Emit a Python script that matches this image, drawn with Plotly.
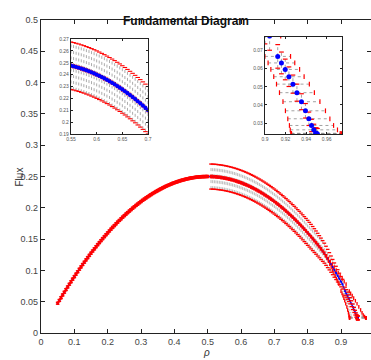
import plotly.graph_objects as go

# ---------------- data ----------------
left_rho = [0.050, 0.055, 0.060, 0.065, 0.070, 0.075, 0.080, 0.085, 0.090, 0.095,
            0.100, 0.105, 0.110, 0.115, 0.120, 0.125, 0.130, 0.135, 0.140, 0.145,
            0.150, 0.155, 0.160, 0.165, 0.170, 0.175, 0.180, 0.185, 0.190, 0.195,
            0.200, 0.205, 0.210, 0.215, 0.220, 0.225, 0.230, 0.235, 0.240, 0.245,
            0.250, 0.255, 0.260, 0.265, 0.270, 0.275, 0.280, 0.285, 0.290, 0.295,
            0.300, 0.305, 0.310, 0.315, 0.320, 0.325, 0.330, 0.335, 0.340, 0.345,
            0.350, 0.355, 0.360, 0.365, 0.370, 0.375, 0.380, 0.385, 0.390, 0.395,
            0.400, 0.405, 0.410, 0.415, 0.420, 0.425, 0.430, 0.435, 0.440, 0.445,
            0.450, 0.455, 0.460, 0.465, 0.470, 0.475, 0.480, 0.485, 0.490, 0.495, 0.500]
left_flux = [0.0475, 0.0520, 0.0564, 0.0608, 0.0651, 0.0694, 0.0736, 0.0778, 0.0819, 0.0860,
             0.0900, 0.0940, 0.0979, 0.1018, 0.1056, 0.1094, 0.1131, 0.1168, 0.1204, 0.1240,
             0.1275, 0.1310, 0.1344, 0.1378, 0.1411, 0.1444, 0.1476, 0.1508, 0.1539, 0.1570,
             0.1600, 0.1630, 0.1659, 0.1688, 0.1716, 0.1744, 0.1771, 0.1798, 0.1824, 0.1850,
             0.1875, 0.1900, 0.1924, 0.1948, 0.1971, 0.1994, 0.2016, 0.2038, 0.2059, 0.2080,
             0.2100, 0.2120, 0.2139, 0.2158, 0.2176, 0.2194, 0.2211, 0.2228, 0.2244, 0.2260,
             0.2275, 0.2290, 0.2304, 0.2318, 0.2331, 0.2344, 0.2356, 0.2368, 0.2379, 0.2390,
             0.2400, 0.2410, 0.2419, 0.2428, 0.2436, 0.2444, 0.2451, 0.2458, 0.2464, 0.2470,
             0.2475, 0.2480, 0.2484, 0.2488, 0.2491, 0.2494, 0.2496, 0.2498, 0.2499, 0.2500, 0.2500]
left_err = 0.0015

right_rho = [0.510, 0.515, 0.520, 0.525, 0.530, 0.535, 0.540, 0.545, 0.550, 0.555,
             0.560, 0.565, 0.570, 0.575, 0.580, 0.585, 0.590, 0.595, 0.600, 0.605,
             0.610, 0.615, 0.620, 0.625, 0.630, 0.635, 0.640, 0.645, 0.650, 0.655,
             0.660, 0.665, 0.670, 0.675, 0.680, 0.685, 0.690, 0.695, 0.700, 0.705,
             0.710, 0.715, 0.720, 0.725, 0.730, 0.735, 0.740, 0.745, 0.750, 0.755,
             0.760, 0.765, 0.770, 0.775, 0.780, 0.785, 0.790, 0.795, 0.800, 0.805,
             0.810, 0.815, 0.820, 0.825, 0.830, 0.835, 0.840, 0.845, 0.850,
             0.855, 0.860, 0.865, 0.870, 0.875, 0.880, 0.885, 0.890, 0.895, 0.900,
             0.9045, 0.9124, 0.9160, 0.9197, 0.9233, 0.9272, 0.9311, 0.9355,
             0.9394, 0.9427, 0.9453, 0.9476, 0.9493, 0.9500, 0.9504, 0.9507, 0.9509]
right_flux = [0.2499, 0.2498, 0.2496, 0.2494, 0.2491, 0.2488, 0.2484, 0.2480, 0.2475, 0.2470,
              0.2464, 0.2458, 0.2451, 0.2444, 0.2436, 0.2428, 0.2419, 0.2410, 0.2400, 0.2390,
              0.2379, 0.2368, 0.2356, 0.2344, 0.2331, 0.2318, 0.2304, 0.2290, 0.2275, 0.2260,
              0.2244, 0.2228, 0.2211, 0.2194, 0.2176, 0.2158, 0.2139, 0.2120, 0.2100, 0.2080,
              0.2059, 0.2038, 0.2016, 0.1994, 0.1971, 0.1948, 0.1924, 0.1900, 0.1875, 0.1850,
              0.1824, 0.1798, 0.1771, 0.1744, 0.1716, 0.1688, 0.1659, 0.1630, 0.1600, 0.1570,
              0.1539, 0.1508, 0.1476, 0.1444, 0.1411, 0.1378, 0.1344, 0.1310, 0.1275,
              0.1233, 0.1190, 0.1146, 0.1100, 0.1053, 0.1005, 0.0960, 0.0913, 0.0865, 0.0820,
              0.0780, 0.0668, 0.0632, 0.0596, 0.0556, 0.0515, 0.0468, 0.0418,
              0.0368, 0.0324, 0.0287, 0.0263, 0.0244, 0.0242, 0.0241, 0.0241, 0.0240]
right_flux_err = ([0.0200] * 59 +
                  [0.0198, 0.0196, 0.0193, 0.0190, 0.0186, 0.0182, 0.0177, 0.0172, 0.0166, 0.0160,
                   0.0153, 0.0146, 0.0138, 0.0130, 0.0122, 0.0114, 0.0106, 0.0098, 0.0090, 0.0083,
                   0.0078, 0.0065, 0.0060, 0.0057, 0.0054, 0.0050, 0.0047, 0.0044,
                   0.0040, 0.0037, 0.0034, 0.0031, 0.0030, 0.0030, 0.0030, 0.0030, 0.0030])
right_rho_err = ([0.0015] * 69 +
                 [0.0020, 0.0025, 0.0030, 0.0038, 0.0046, 0.0055, 0.0065, 0.0075, 0.0085, 0.0095,
                  0.0108, 0.0125, 0.0130, 0.0140, 0.0148, 0.0160, 0.0170, 0.0180,
                  0.0195, 0.0205, 0.0215, 0.0230, 0.0240, 0.0245, 0.0248, 0.0250, 0.0250])

main_xticks = [0, 0.1, 0.2, 0.3, 0.4, 0.5, 0.6, 0.7, 0.8, 0.9]
main_yticks = [0, 0.05, 0.1, 0.15, 0.2, 0.25, 0.3, 0.35, 0.4, 0.45, 0.5]
inset1_xticks = [0.55, 0.6, 0.65, 0.7]
inset1_yticks = [0.19, 0.2, 0.21, 0.22, 0.23, 0.24, 0.25, 0.26, 0.27]
inset2_xticks = [0.9, 0.92, 0.94, 0.96]
inset2_yticks = [0.03, 0.04, 0.05, 0.06, 0.07]

# ---------------- combine ----------------
rho = left_rho + right_rho
flux = left_flux + right_flux
ex = [left_err] * len(left_rho) + right_rho_err
ey = [left_err] * len(left_rho) + right_flux_err

def vsegs():
    X, Y = [], []
    for x, y, e in zip(rho, flux, ey):
        X += [x, x, None]
        Y += [y - e, y + e, None]
    return X, Y

def hsegs():
    X, Y = [], []
    for x, y, e in zip(rho, flux, ex):
        X += [x - e, x + e, None]
        Y += [y, y, None]
    return X, Y

VX, VY = vsegs()
HX, HY = hsegs()
cap_vx = rho + rho
cap_vy = [y + e for y, e in zip(flux, ey)] + [y - e for y, e in zip(flux, ey)]
cap_hx = [x - e for x, e in zip(rho, ex)] + [x + e for x, e in zip(rho, ex)]
cap_hy = flux + flux

RED = "#ff0000"
BLUE = "#0000ff"
GREY = "#8a8a8a"

fig = go.Figure()

def add_set(xa, ya, cap_size, cap_w, dot_w, blue_size, main):
    fig.add_trace(go.Scatter(x=VX, y=VY, mode="lines", xaxis=xa, yaxis=ya,
                             line=dict(color=GREY, width=dot_w, dash="dot"),
                             hoverinfo="skip", showlegend=False))
    fig.add_trace(go.Scatter(x=HX, y=HY, mode="lines", xaxis=xa, yaxis=ya,
                             line=dict(color=GREY, width=dot_w, dash="dot"),
                             hoverinfo="skip", showlegend=False))
    if main:
        fig.add_trace(go.Scatter(x=rho, y=flux, mode="lines+markers", xaxis=xa, yaxis=ya,
                                 line=dict(color=BLUE, width=1.2),
                                 marker=dict(color=BLUE, size=blue_size),
                                 showlegend=False))
    fig.add_trace(go.Scatter(x=cap_vx, y=cap_vy, mode="markers", xaxis=xa, yaxis=ya,
                             marker=dict(symbol="line-ew", size=cap_size,
                                         line=dict(color=RED, width=cap_w)),
                             showlegend=False))
    fig.add_trace(go.Scatter(x=cap_hx, y=cap_hy, mode="markers", xaxis=xa, yaxis=ya,
                             marker=dict(symbol="line-ns", size=cap_size,
                                         line=dict(color=RED, width=cap_w)),
                             showlegend=False))
    if not main:
        fig.add_trace(go.Scatter(x=rho, y=flux, mode="markers", xaxis=xa, yaxis=ya,
                                 marker=dict(color=BLUE, size=blue_size),
                                 showlegend=False))

add_set("x", "y", 2.6, 1.3, 0.6, 2.2, True)
add_set("x2", "y2", 3.2, 1.1, 0.7, 4.2, False)
add_set("x3", "y3", 3.4, 1.2, 0.8, 5, False)

W, H = 371, 360
FONT = "Liberation Sans, Arial, Helvetica, sans-serif"
axis_common = dict(showline=True, linecolor="#222222", mirror="ticks", ticks="inside",
                   showgrid=False, zeroline=False, tickcolor="#222222", automargin=False)

fig.update_layout(
    width=W, height=H,
    margin=dict(l=0, r=0, t=0, b=0, autoexpand=False),
    paper_bgcolor="white", plot_bgcolor="white",
    font=dict(family=FONT, color="#444444"),
    showlegend=False,
    xaxis=dict(domain=[41 / W, 1.0], range=[0, 0.99], tickvals=main_xticks,
               ticklen=4, linewidth=1.3, tickwidth=1, anchor="y",
               tickfont=dict(size=9, color="#444444"), **axis_common),
    yaxis=dict(domain=[(H - 333) / H, (H - 20) / H], range=[0, 0.5], tickvals=main_yticks,
               ticklen=4, linewidth=1.3, tickwidth=1, anchor="x",
               tickfont=dict(size=9, color="#444444"), **axis_common),
    xaxis2=dict(domain=[71 / W, 148 / W], range=[0.55, 0.70], tickvals=inset1_xticks,
                ticklen=2, linewidth=1.2, tickwidth=0.8, anchor="y2",
                tickfont=dict(size=5, color="#555555"), **axis_common),
    yaxis2=dict(domain=[(H - 134) / H, (H - 39) / H], range=[0.19, 0.27],
                tickvals=inset1_yticks, ticklen=2, linewidth=1.2, tickwidth=0.8, anchor="x2",
                tickfont=dict(size=5, color="#555555"), **axis_common),
    xaxis3=dict(domain=[265 / W, 342 / W], range=[0.9, 0.975], tickvals=inset2_xticks,
                ticklen=2, linewidth=1.2, tickwidth=0.8, anchor="y3",
                tickfont=dict(size=5, color="#555555"), **axis_common),
    yaxis3=dict(domain=[(H - 134) / H, (H - 37) / H], range=[0.024, 0.0775],
                tickvals=inset2_yticks, ticklen=2, linewidth=1.2, tickwidth=0.8, anchor="x3",
                tickfont=dict(size=5, color="#555555"), **axis_common),
    annotations=[
        dict(text="<b>Fundamental Diagram</b>", x=186 / W, y=(H - 12) / H,
             xref="paper", yref="paper", showarrow=False,
             font=dict(size=12, color="#111111", family=FONT)),
        dict(text="Flux", x=11 / W, y=(H - 177) / H, xref="paper", yref="paper",
             showarrow=False, textangle=-90, font=dict(size=10, color="#333333", family=FONT)),
        dict(text="<i>ρ</i>", x=206 / W, y=0, yanchor="bottom", xref="paper", yref="paper",
             showarrow=False, font=dict(size=10, color="#333333", family=FONT)),
    ],
)

fig.write_html("out.html", config={"displayModeBar": False},
               post_script="document.body.style.margin='0';document.body.style.overflow='hidden';")
